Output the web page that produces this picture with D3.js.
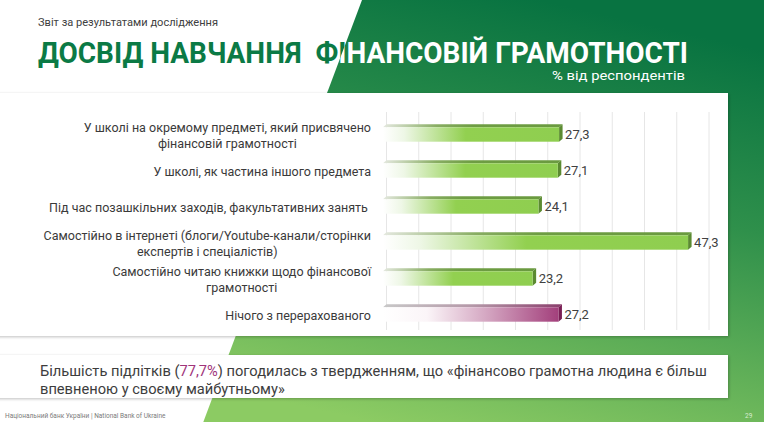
<!DOCTYPE html>
<head>
  <meta charset="utf-8">
  <style>
    body { margin:0; background:#fff; }
    text { font-family: Roboto, "Noto Sans", sans-serif; }
  </style>
<title>Досвід навчання фінансовій грамотності</title>
</head>

<body>

  <script src="https://cdn.jsdelivr.net/npm/d3@7"></script>

  <script>
    // chart data
    var categories = [
      "У школі на окремому предметі, який присвячено\nфінансовій грамотності",
      "У школі, як частина іншого предмета",
      "Під час позашкільних заходів, факультативних занять ",
      "Самостійно в інтернеті (блоги/Youtube-канали/сторінки\nекспертів і спеціалістів)",
      "Самостійно читаю книжки щодо фінансової\nграмотності",
      "Нічого з перерахованого"
    ];
    var values = [27.3, 27.1, 24.1, 47.3, 23.2, 27.2];
    var highlight = [false, false, false, false, false, true];

    var width = 764;
    var height = 422;
    var depth = {dx:3.5, dy:3};

    // scales
    var x = d3.scaleLinear().domain([0, 50]).range([383, 705.5]);
    var y = d3.scaleBand().domain(categories).range([116.5, 332.5])
      .paddingInner(0.6).paddingOuter(0.3);

    // comma decimal, as on the slide
    var fmt = d3.formatLocale({decimal:",", thousands:" ", grouping:[3], currency:["","%"]}).format(".1f");

    var svg = d3.select("body").append("svg")
      .attr("width", width)
      .attr("height", height);

    var defs = svg.append("defs");

    // background green
    var bg = defs.append("linearGradient").attr("id","bgGrad")
      .attr("x1",0.6).attr("y1",0).attr("x2",0.3).attr("y2",1);
    bg.append("stop").attr("offset",0).attr("stop-color","#087341");
    bg.append("stop").attr("offset",0.4).attr("stop-color","#2f904b");
    bg.append("stop").attr("offset",1).attr("stop-color","#8ccb63");

    function grad(id, stops) {
      var g = defs.append("linearGradient").attr("id", id);
      stops.forEach(function (s) {
        g.append("stop").attr("offset", s[0]).attr("stop-color", s[1]);
      });
    }
    grad("greenFront", [[0,"#ffffff"],[0.12,"#eef7e6"],[0.47,"#92d050"],[1,"#8fce50"]]);
    grad("greenTop",   [[0,"#e4e8df"],[0.3,"#88ad62"],[0.5,"#6e9d43"],[1,"#6a9a3f"]]);
    grad("pinkFront",  [[0,"#ffffff"],[0.25,"#fbf5f8"],[0.6,"#d3a4c0"],[1,"#a3407c"]]);
    grad("pinkTop",    [[0,"#c8c8c8"],[0.5,"#b598a8"],[1,"#8a3f6c"]]);

    var shadow = defs.append("filter").attr("id","shadow")
      .attr("x","-5%").attr("y","-5%").attr("width","110%").attr("height","115%");
    shadow.append("feDropShadow").attr("dx",1).attr("dy",1).attr("stdDeviation",1.5)
      .attr("flood-color","#000").attr("flood-opacity",0.25);

    // slanted green shape
    var slant = function (yy) { return 362 - 0.376 * yy; };
    var greenPts = [[slant(0),0],[width,0],[width,height],[slant(height),height]];
    function pts(a) { return a.map(function (p) { return p.join(","); }).join(" "); }

    svg.append("polygon")
      .attr("points", pts(greenPts))
      .attr("fill","url(#bgGrad)");
    defs.append("clipPath").attr("id","greenClip")
      .append("polygon")
      .attr("points", pts(greenPts));

    // white panels
    svg.append("rect").attr("x",-10).attr("y",93).attr("width",738).attr("height",243)
      .attr("fill","#fff").attr("filter","url(#shadow)");
    svg.append("rect").attr("x",-10).attr("y",355).attr("width",738).attr("height",43)
      .attr("fill","#fff").attr("filter","url(#shadow)");

    // header texts
    svg.append("text")
      .attr("x",38).attr("y",26)
      .attr("textLength",180).attr("lengthAdjust","spacingAndGlyphs")
      .style("font-size","11.5px").style("fill","#404040")
      .text("Звіт за результатами дослідження");

    var titleText = "ДОСВІД НАВЧАННЯ  ФІНАНСОВІЙ ГРАМОТНОСТІ";
    [["#0b7a45", null], ["#ffffff", "url(#greenClip)"]].forEach(function (t) {
      svg.append("text")
        .attr("x",38).attr("y",63)
        .attr("textLength",650).attr("lengthAdjust","spacingAndGlyphs")
        .attr("clip-path", t[1])
        .style("white-space","pre")
        .style("font-size","30px").style("font-weight","700").style("fill",t[0])
        .text(titleText);
    });

    svg.append("text")
      .attr("x",685).attr("y",80)
      .attr("textLength",133).attr("lengthAdjust","spacingAndGlyphs")
      .style("text-anchor","end")
      .style("font-size","13px").style("fill","#ffffff")
      .text("% від респондентів");

    // gridlines on the back wall
    svg.append("g").attr("id","grid")
      .selectAll("line")
      .data(x.ticks(10))
      .enter().append("line")
      .attr("x1", function (d) { return x(d) + depth.dx; })
      .attr("x2", function (d) { return x(d) + depth.dx; })
      .attr("y1",112).attr("y2",330)
      .attr("stroke","#e6e6e6").attr("stroke-width",1);

    // 3D bars
    var bars = svg.append("g").attr("id","bars")
      .selectAll("g")
      .data(values)
      .enter().append("g");

    bars.append("polygon") // top face
      .attr("points", function (d, i) {
        var y0 = y(categories[i]), x0 = x(0), x1 = x(d);
        return pts([[x0,y0],[x1,y0],[x1+depth.dx,y0-depth.dy],[x0+depth.dx,y0-depth.dy]]);
      })
      .attr("fill", function (d, i) { return highlight[i] ? "url(#pinkTop)" : "url(#greenTop)"; });

    bars.append("polygon") // side face
      .attr("points", function (d, i) {
        var y0 = y(categories[i]), y1 = y0 + y.bandwidth(), x1 = x(d);
        return pts([[x1,y0],[x1+depth.dx,y0-depth.dy],[x1+depth.dx,y1-depth.dy],[x1,y1]]);
      })
      .attr("fill", function (d, i) { return highlight[i] ? "#7a1f55" : "#5b8a31"; });

    bars.append("rect") // front face
      .attr("x", x(0))
      .attr("y", function (d, i) { return y(categories[i]); })
      .attr("width", function (d) { return x(d) - x(0); })
      .attr("height", y.bandwidth())
      .attr("fill", function (d, i) { return highlight[i] ? "url(#pinkFront)" : "url(#greenFront)"; });

    bars.append("text") // value labels
      .attr("x", function (d) { return x(d) + 6; })
      .attr("y", function (d, i) { return y(categories[i]) + y.bandwidth() / 2; })
      .attr("dy","0.36em")
      .style("font-size","13px").style("fill","#404040")
      .text(function (d) { return fmt(d); });

    // category labels: centred lines, block right-aligned
    var labelRight = 371;
    var labels = svg.append("g").attr("id","labels");
    categories.forEach(function (c, i) {
      var lines = c.split("\n");
      var cy = y(c) + y.bandwidth() / 2 + 1;
      var t = labels.append("text")
        .style("font-size","12.5px").style("fill","#3a3a3a")
        .style("white-space","pre")
        .style("text-anchor","middle");
      lines.forEach(function (l, k) {
        t.append("tspan")
          .attr("x", 0)
          .attr("y", cy + (k - (lines.length - 1) / 2) * 16.5)
          .attr("dy","0.36em")
          .text(l);
      });
      var w = d3.max(t.selectAll("tspan").nodes(), function (n) { return n.getComputedTextLength(); });
      t.selectAll("tspan").attr("x", labelRight - w / 2);
    });

    // bottom statement, first line sized to span the box
    var note = svg.append("text")
      .style("font-size","15.5px").style("fill","#3d3d3d");
    var l1 = note.append("tspan").attr("x",40).attr("y",375.5);
    l1.append("tspan").text("Більшість підлітків (");
    l1.append("tspan").style("fill","#a0347a").text("77,7%");
    l1.append("tspan").text(") погодилась з твердженням, що «фінансово грамотна людина є більш");
    note.append("tspan").attr("x",40).attr("y",393.5)
      .text("впевненою у своєму майбутньому»");
    var natural = l1.node().getComputedTextLength();
    note.style("font-size", (15.5 * 667 / natural).toFixed(2) + "px");

    // footer
    svg.append("text")
      .attr("x",5).attr("y",418)
      .style("font-size","6.5px").style("fill","#7a7a7a")
      .text("Національний банк України | National Bank of Ukraine");
    svg.append("text")
      .attr("x",745).attr("y",418)
      .style("font-size","6.5px").style("fill","#d8ecd0")
      .text("29");
  </script>
</body>
